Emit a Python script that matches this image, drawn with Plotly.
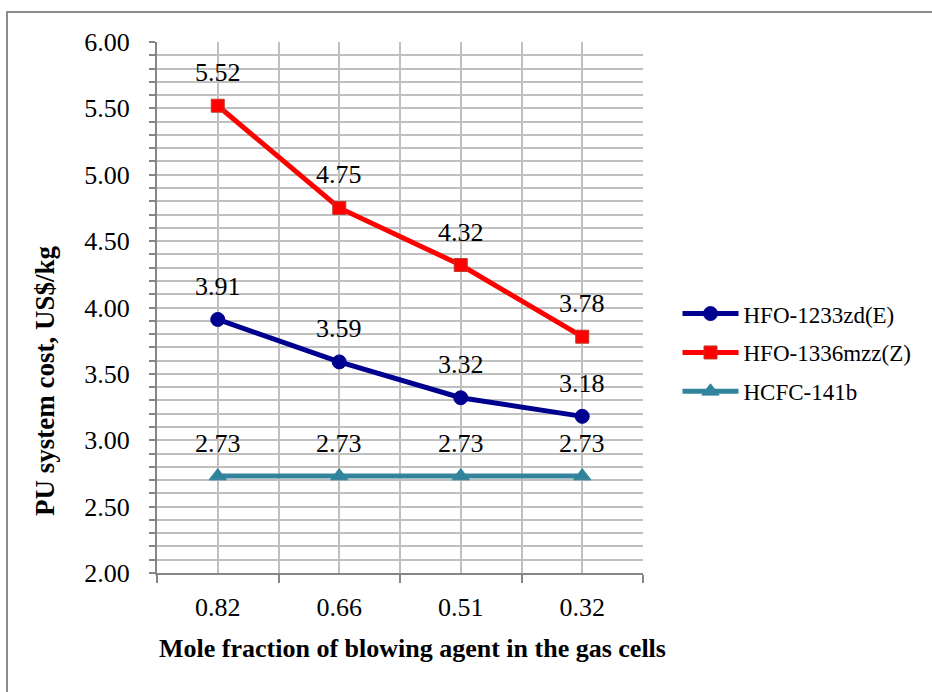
import plotly.graph_objects as go

# mole fraction categories (x axis)
categories = ["0.82", "0.66", "0.51", "0.32"]

hfo_1233zd = [3.91, 3.59, 3.32, 3.18]
hfo_1336mzz = [5.52, 4.75, 4.32, 3.78]
hcfc_141b = [2.73, 2.73, 2.73, 2.73]

FONT = "Liberation Serif, Times New Roman, serif"
GRID = "#BFBFBF"
AXIS = "#868686"


def main():
    xpos = list(range(len(categories)))

    fig = go.Figure()

    series = [
        ("HFO-1233zd(E)", hfo_1233zd, "#000090", "circle", 14, "#000090"),
        ("HFO-1336mzz(Z)", hfo_1336mzz, "#FF0000", "square", 13, "#C0392B"),
        ("HCFC-141b", hcfc_141b, "#31849B", "triangle-up", 15, "#31849B"),
    ]
    labels = []
    for i, (name, vals, color, symbol, size, edge) in enumerate(series):
        fig.add_trace(
            go.Scatter(
                x=xpos,
                y=vals,
                name=name,
                mode="lines+markers",
                line=dict(color=color, width=5),
                marker=dict(symbol=symbol, size=size, color=color,
                            line=dict(color=edge, width=1)),
                legendgroup=str(i),
            )
        )
        # data labels sit a bit higher than plotly's "top center"
        for x, v in zip(xpos, vals):
            labels.append(dict(x=x, y=v, xref="x", yref="y", text=f"{v:.2f}",
                               showarrow=False, yshift=33,
                               font=dict(family=FONT, size=26, color="black")))

    fig.update_xaxes(
        range=[-0.5, 3.5],
        tickvals=xpos,
        ticktext=categories,
        ticks="",
        showgrid=True,
        gridcolor=GRID,
        gridwidth=1.5,
        showline=True,
        linecolor=AXIS,
        linewidth=2,
        zeroline=False,
        tickfont=dict(family=FONT, size=26, color="black"),
        ticklabelstandoff=10,
        minor=dict(tick0=-0.5, dtick=1, showgrid=True, gridcolor=GRID,
                   gridwidth=1.5, ticks="outside", ticklen=8,
                   tickcolor=AXIS, tickwidth=2),
    )
    fig.update_yaxes(
        range=[2, 6],
        dtick=0.5,
        tickformat=".2f",
        ticks="outside",
        ticklen=6,
        tickcolor=AXIS,
        tickwidth=2,
        showgrid=True,
        gridcolor=GRID,
        gridwidth=1.5,
        showline=True,
        linecolor=AXIS,
        linewidth=2,
        zeroline=False,
        tickfont=dict(family=FONT, size=26, color="black"),
        ticklabelstandoff=14,
        minor=dict(dtick=0.1, showgrid=True, gridcolor=GRID, gridwidth=1.5,
                   ticks="outside", ticklen=6, tickcolor=AXIS, tickwidth=2),
    )

    fig.update_layout(
        width=932,
        height=692,
        margin=dict(l=157, r=289, t=42, b=119),
        paper_bgcolor="white",
        plot_bgcolor="white",
        font=dict(family=FONT, color="black"),
        showlegend=True,
        legend=dict(
            x=1.071, y=0.529, xanchor="left", yanchor="top",
            font=dict(family=FONT, size=23, color="black"),
            traceorder="grouped",
            tracegroupgap=6,
            itemwidth=56,
            bgcolor="rgba(0,0,0,0)",
        ),
        annotations=labels + [
            dict(text="<b>Mole fraction of blowing agent in the gas cells</b>",
                 xref="paper", yref="paper", x=0.525, y=-0.142,
                 xanchor="center", yanchor="middle", showarrow=False,
                 font=dict(family=FONT, size=26, color="black")),
            dict(text="<b>PU system cost, US$/kg</b>",
                 xref="paper", yref="paper", x=-0.23, y=0.362,
                 xanchor="center", yanchor="middle", showarrow=False,
                 textangle=-90,
                 font=dict(family=FONT, size=27, color="black")),
        ],
        shapes=[
            dict(type="rect", xref="paper", yref="paper",
                 x0=-0.3086, x1=1.60, y0=-0.24, y1=1.0565,
                 line=dict(color="#8C8C8C", width=2), layer="below"),
        ],
    )

    # drop the default body margin so the figure fills the window
    fig.write_html("out.html", config={"displayModeBar": False},
                   post_script="document.body.style.margin='0px';")


if __name__ == "__main__":
    main()
